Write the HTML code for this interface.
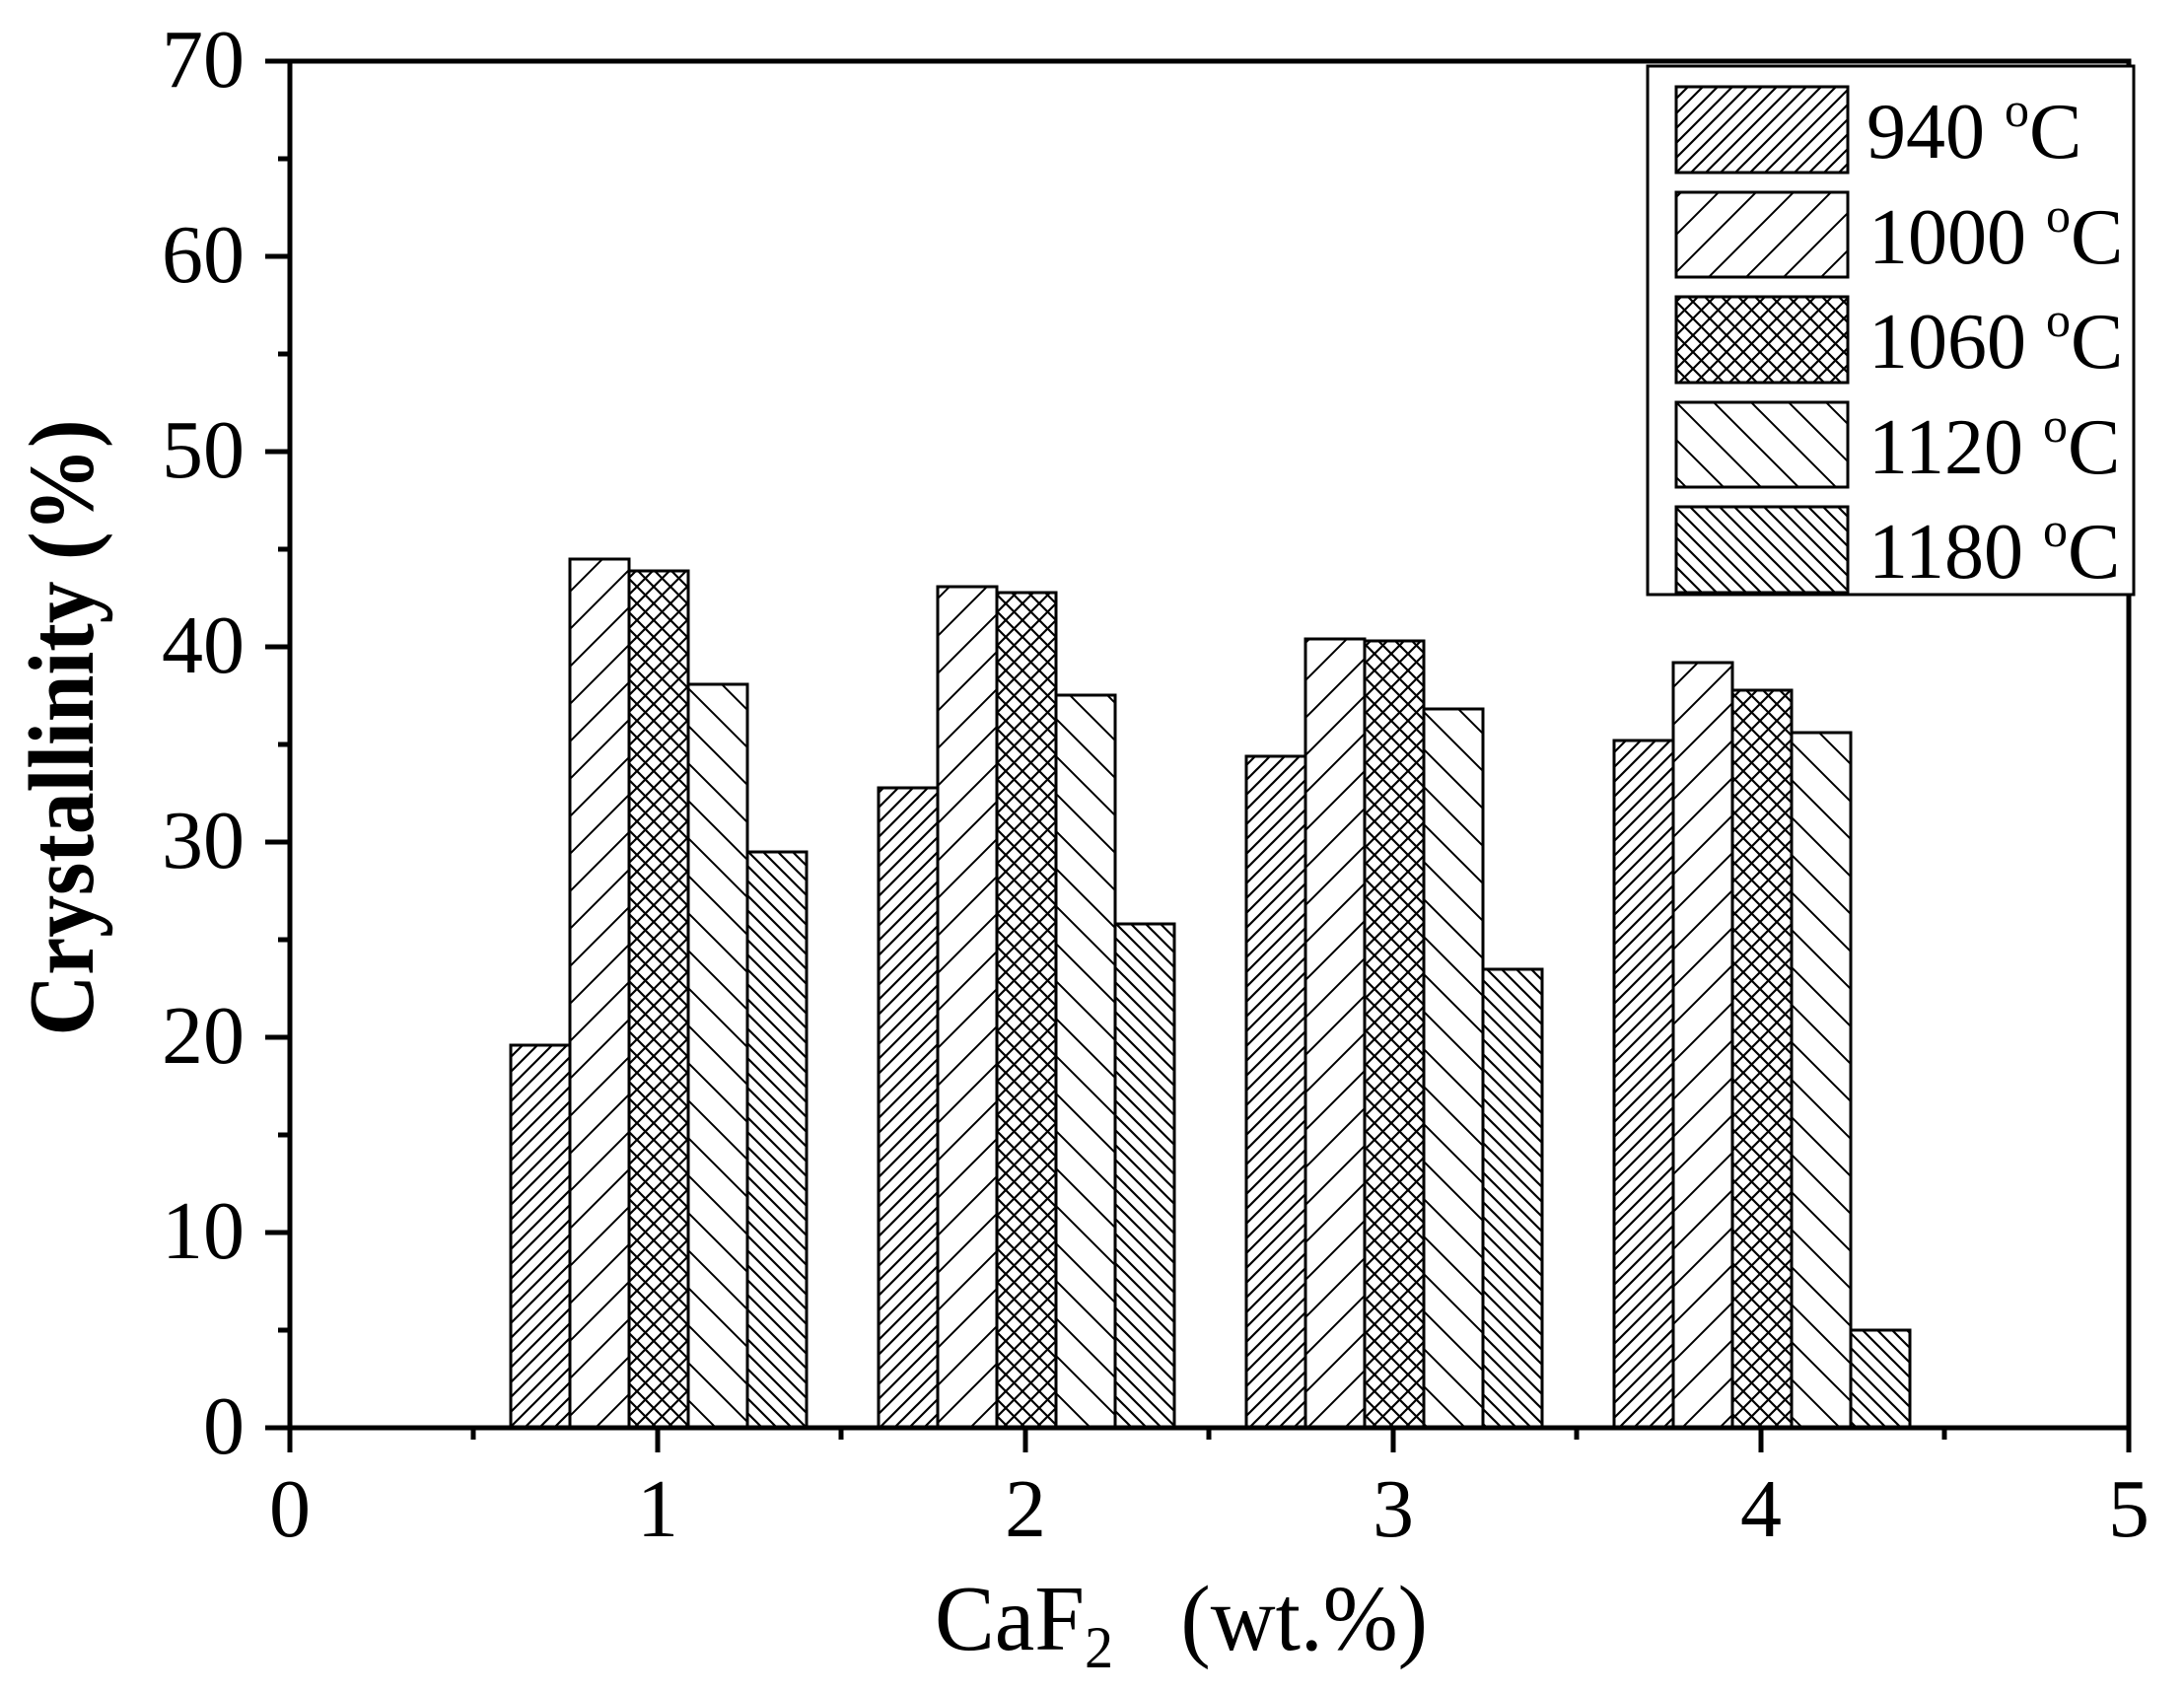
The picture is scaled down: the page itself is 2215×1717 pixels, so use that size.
<!DOCTYPE html>
<html><head><meta charset="utf-8"><style>
html,body{margin:0;padding:0;background:#fff;}
svg{display:block;}
text{font-family:"Liberation Serif",serif;fill:#000;}
</style></head><body>
<svg width="2215" height="1717" viewBox="0 0 2215 1717" xmlns="http://www.w3.org/2000/svg">
<defs>
<pattern id="p940" patternUnits="userSpaceOnUse" width="15" height="15"><path d="M-2,17 L17,-2 M-5,5 L5,-5 M10,20 L20,10" stroke="#000" stroke-width="2.2"/></pattern>
<pattern id="p1000" patternUnits="userSpaceOnUse" width="38" height="38"><path d="M-2,40 L40,-2 M-5,5 L5,-5 M33,43 L43,33" stroke="#000" stroke-width="2"/></pattern>
<pattern id="p1060" patternUnits="userSpaceOnUse" width="17" height="17"><path d="M-2,19 L19,-2 M-2,-2 L19,19 M-5,5 L5,-5 M12,22 L22,12 M-5,12 L5,22 M12,-5 L22,5" stroke="#000" stroke-width="2.2"/></pattern>
<pattern id="p1120" patternUnits="userSpaceOnUse" width="38" height="38"><path d="M-2,-2 L40,40 M-5,33 L5,43 M33,-5 L43,5" stroke="#000" stroke-width="2"/></pattern>
<pattern id="p1180" patternUnits="userSpaceOnUse" width="15" height="15"><path d="M-2,-2 L17,17 M-5,10 L5,20 M10,-5 L20,5" stroke="#000" stroke-width="2.2"/></pattern>
</defs>
<g stroke="#000" stroke-width="3">
<rect x="518" y="1060" width="60" height="388" fill="url(#p940)"/>
<rect x="578" y="567" width="60" height="881" fill="url(#p1000)"/>
<rect x="638" y="579" width="60" height="869" fill="url(#p1060)"/>
<rect x="698" y="694" width="60" height="754" fill="url(#p1120)"/>
<rect x="758" y="864" width="60" height="584" fill="url(#p1180)"/>
<rect x="891" y="799" width="60" height="649" fill="url(#p940)"/>
<rect x="951" y="595" width="60" height="853" fill="url(#p1000)"/>
<rect x="1011" y="601" width="60" height="847" fill="url(#p1060)"/>
<rect x="1071" y="705" width="60" height="743" fill="url(#p1120)"/>
<rect x="1131" y="937" width="60" height="511" fill="url(#p1180)"/>
<rect x="1264" y="767" width="60" height="681" fill="url(#p940)"/>
<rect x="1324" y="648" width="60" height="800" fill="url(#p1000)"/>
<rect x="1384" y="650" width="60" height="798" fill="url(#p1060)"/>
<rect x="1444" y="719" width="60" height="729" fill="url(#p1120)"/>
<rect x="1504" y="983" width="60" height="465" fill="url(#p1180)"/>
<rect x="1637" y="751" width="60" height="697" fill="url(#p940)"/>
<rect x="1697" y="672" width="60" height="776" fill="url(#p1000)"/>
<rect x="1757" y="700" width="60" height="748" fill="url(#p1060)"/>
<rect x="1817" y="743" width="60" height="705" fill="url(#p1120)"/>
<rect x="1877" y="1349" width="60" height="99" fill="url(#p1180)"/>
</g>
<g stroke="#000" stroke-width="5" fill="none">
<rect x="294" y="62" width="1865" height="1386"/>
</g>
<g stroke="#000" stroke-width="5">
<line x1="269" y1="62" x2="294" y2="62"/>
<line x1="269" y1="260" x2="294" y2="260"/>
<line x1="269" y1="458" x2="294" y2="458"/>
<line x1="269" y1="656" x2="294" y2="656"/>
<line x1="269" y1="854" x2="294" y2="854"/>
<line x1="269" y1="1052" x2="294" y2="1052"/>
<line x1="269" y1="1250" x2="294" y2="1250"/>
<line x1="269" y1="1448" x2="294" y2="1448"/>
<line x1="282" y1="161" x2="294" y2="161"/>
<line x1="282" y1="359" x2="294" y2="359"/>
<line x1="282" y1="557" x2="294" y2="557"/>
<line x1="282" y1="755" x2="294" y2="755"/>
<line x1="282" y1="953" x2="294" y2="953"/>
<line x1="282" y1="1151" x2="294" y2="1151"/>
<line x1="282" y1="1349" x2="294" y2="1349"/>
<line x1="294" y1="1448" x2="294" y2="1473"/>
<line x1="667" y1="1448" x2="667" y2="1473"/>
<line x1="1040" y1="1448" x2="1040" y2="1473"/>
<line x1="1413" y1="1448" x2="1413" y2="1473"/>
<line x1="1786" y1="1448" x2="1786" y2="1473"/>
<line x1="2159" y1="1448" x2="2159" y2="1473"/>
<line x1="480" y1="1448" x2="480" y2="1460"/>
<line x1="853" y1="1448" x2="853" y2="1460"/>
<line x1="1226" y1="1448" x2="1226" y2="1460"/>
<line x1="1599" y1="1448" x2="1599" y2="1460"/>
<line x1="1972" y1="1448" x2="1972" y2="1460"/>
</g>
<g font-size="84" text-anchor="end">
<text x="248" y="88">70</text>
<text x="248" y="286">60</text>
<text x="248" y="484">50</text>
<text x="248" y="682">40</text>
<text x="248" y="880">30</text>
<text x="248" y="1078">20</text>
<text x="248" y="1276">10</text>
<text x="248" y="1474">0</text>
</g>
<g font-size="84" text-anchor="middle">
<text x="294" y="1558">0</text>
<text x="667" y="1558">1</text>
<text x="1040" y="1558">2</text>
<text x="1413" y="1558">3</text>
<text x="1786" y="1558">4</text>
<text x="2159" y="1558">5</text>
</g>
<text transform="translate(94,738) rotate(-90)" font-size="94" font-weight="bold" text-anchor="middle" textLength="625" lengthAdjust="spacingAndGlyphs">Crystallinity (%)</text>
<text x="948" y="1673" font-size="94" textLength="500" lengthAdjust="spacingAndGlyphs">CaF<tspan font-size="60" dy="18">2</tspan><tspan dy="-18" xml:space="preserve">   (wt.%)</tspan></text>
<rect x="1671" y="67" width="493" height="536" fill="#fff" stroke="#000" stroke-width="3"/>
<g stroke="#000" stroke-width="3">
<rect x="1700" y="88" width="174" height="87" fill="url(#p940)"/>
<rect x="1700" y="195" width="174" height="86" fill="url(#p1000)"/>
<rect x="1700" y="301" width="174" height="87" fill="url(#p1060)"/>
<rect x="1700" y="408" width="174" height="86" fill="url(#p1120)"/>
<rect x="1700" y="514" width="174" height="87" fill="url(#p1180)"/>
</g>
<g font-size="80">
<text x="1893" y="160">940 <tspan font-size="50" dy="-32">o</tspan><tspan dy="32">C</tspan></text>
<text x="1895" y="267">1000 <tspan font-size="50" dy="-32">o</tspan><tspan dy="32">C</tspan></text>
<text x="1895" y="373">1060 <tspan font-size="50" dy="-32">o</tspan><tspan dy="32">C</tspan></text>
<text x="1895" y="480">1120 <tspan font-size="50" dy="-32">o</tspan><tspan dy="32">C</tspan></text>
<text x="1895" y="586">1180 <tspan font-size="50" dy="-32">o</tspan><tspan dy="32">C</tspan></text>
</g>
</svg>
</body></html>
